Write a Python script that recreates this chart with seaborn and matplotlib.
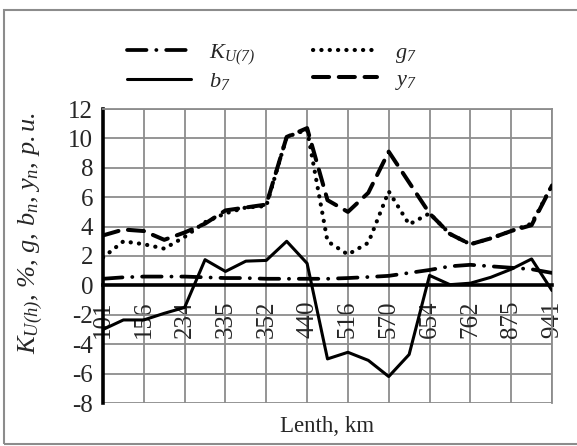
import numpy as np
import pandas as pd
import seaborn as sns
import matplotlib
matplotlib.use("Agg")
import matplotlib.pyplot as plt
from matplotlib.patches import Rectangle

# x axis labels (every second point carries a label)
length_km = ["101", "156", "234", "335", "352", "440", "516", "570", "654", "762", "875", "941"]

# series (23 points each)
k_u7 = [0.45, 0.55, 0.6, 0.6, 0.6, 0.55, 0.5, 0.5, 0.45, 0.45, 0.45, 0.45,
        0.5, 0.57, 0.65, 0.85, 1.05, 1.3, 1.4, 1.3, 1.2, 1.1, 0.85]
g7 = [1.9, 3.0, 2.8, 2.5, 3.3, 4.3, 4.9, 5.3, 5.4, 10.1, 10.6, 3.0,
      2.1, 2.9, 6.4, 4.15, 4.9, 3.5, 2.8, 3.2, 3.7, 4.2, 6.8]
b7 = [-3.0, -2.35, -2.35, -1.9, -1.5, 1.75, 0.95, 1.65, 1.7, 3.0, 1.5, -5.0,
      -4.55, -5.1, -6.2, -4.7, 0.68, 0.05, 0.15, 0.55, 1.1, 1.8, -0.35]
y7 = [3.4, 3.8, 3.7, 3.1, 3.6, 4.2, 5.1, 5.3, 5.5, 10.1, 10.7, 5.8,
      5.0, 6.3, 9.1, 7.0, 4.9, 3.5, 2.8, 3.2, 3.7, 4.1, 6.8]

sns.set_style("white")
plt.rcParams["font.family"] = ["Liberation Serif", "DejaVu Serif"]
plt.rcParams["mathtext.fontset"] = "custom"
plt.rcParams["mathtext.rm"] = "Liberation Serif:italic"
plt.rcParams["mathtext.it"] = "Liberation Serif:italic"
plt.rcParams["axes.unicode_minus"] = False

TICK_FS = 18
idx = np.arange(len(b7))
df = pd.DataFrame({"pos": idx, "K": k_u7, "g": g7, "b": b7, "y": y7})

fig = plt.figure(figsize=(5.77, 4.46), dpi=100)
ax = fig.add_axes([103 / 577, 1 - 403 / 446, 449 / 577, 294 / 446])

styles = [
    ("K", r"$K_{U(7)}$", (0, (5.2, 2.6, 0.05, 2.6)), 2.7),
    ("g", r"$g_7$", (0, (0.05, 1.95)), 3.0),
    ("b", r"$b_7$", "-", 2.2),
    ("y", r"$y_7$", (0, (4.0, 2.4)), 2.9),
]
handles = {}
for col, lab, ls, lw in styles:
    sns.lineplot(data=df, x="pos", y=col, ax=ax, color="black", linewidth=lw,
                 linestyle=ls, dash_capstyle="round", solid_capstyle="round",
                 zorder=3)
    handles[col] = (ax.get_lines()[-1], lab)

# x axis crosses at zero (set before the tick labels: it resets the ticks)
ax.spines["bottom"].set_position(("data", 0))

ax.set_xlim(0, len(b7) - 1)
ax.set_ylim(-8, 12)
ax.set_xticks(idx[::2])
ax.set_xticklabels(length_km, rotation=90, fontsize=TICK_FS)
ax.set_yticks(np.arange(-8, 13, 2))
ax.set_yticklabels([str(v) for v in range(-8, 13, 2)], fontsize=TICK_FS)

ax.grid(True, color="#8c8c8c", linewidth=1.3)
ax.set_axisbelow(True)
for s in ["top", "right"]:
    ax.spines[s].set_color("#8c8c8c")
    ax.spines[s].set_linewidth(1.3)
ax.spines["left"].set_color("black")
ax.spines["left"].set_linewidth(2.6)
ax.spines["bottom"].set_color("black")
ax.spines["bottom"].set_linewidth(2.6)
ax.spines["bottom"].set_zorder(4)
ax.tick_params(axis="x", direction="out", length=4, width=2.6, color="black", pad=7)
ax.tick_params(axis="y", direction="out", length=4, width=2.6, color="black", pad=3)

ax.set_xlabel("Lenth, km", fontsize=16.5)
ax.xaxis.set_label_coords(0.5, -0.045)
ax.set_ylabel(r"$K_{U(h)}$, %, g, $b_n$, $y_n$, $p.u.$", fontsize=19, style="italic")
ax.yaxis.set_label_coords(-0.13, 0.578)

order = ["K", "b", "g", "y"]
fig.legend([handles[k][0] for k in order], [handles[k][1] for k in order],
           ncol=2, loc="upper left", bbox_to_anchor=(127 / 577, 1 - 42 / 446),
           frameon=False, fontsize=16, handlelength=2.9, handletextpad=0.8,
           columnspacing=2.6, borderpad=0, borderaxespad=0, labelspacing=0.2)

fig.patches.append(Rectangle((4 / 577, 2 / 446), 1.2, 1 - 12 / 446,
                             transform=fig.transFigure, fill=False,
                             edgecolor="#8c8c8c", linewidth=1.5))

fig.savefig("out.png", dpi=100)
